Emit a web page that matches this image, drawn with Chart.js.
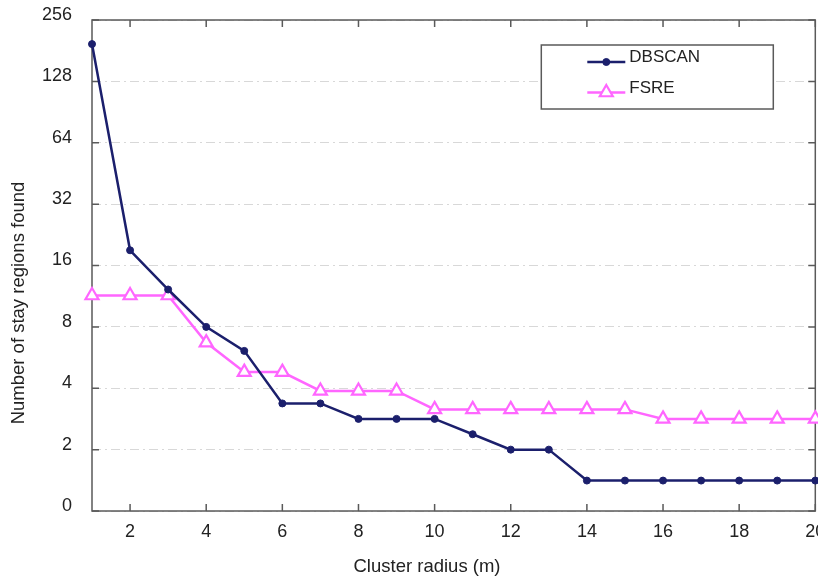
<!DOCTYPE html>
<html>
<head>
<meta charset="utf-8">
<title>Stay regions vs cluster radius</title>
<script src="https://cdn.jsdelivr.net/npm/chart.js@4.4.1/dist/chart.umd.min.js"></script>
<style>
  html, body { margin: 0; padding: 0; background: #fff; overflow: hidden; }
  canvas { display: block; }
</style>
</head>
<body>
<!-- canvas runs a little past the window so the last x label gets cut at the edge -->
<canvas id="radiusChart" width="825" height="580"></canvas>
<script>
// cluster radius (m) on the x axis
const radius = [1, 2, 3, 4, 5, 6, 7, 8, 9, 10, 11, 12, 13, 14, 15, 16, 17, 18, 19, 20];
// number of stay regions found by each method
const dbscanRegions = [195, 19, 12.2, 8, 6.1, 3.37, 3.37, 2.83, 2.83, 2.83, 2.38, 2, 2, 1.41, 1.41, 1.41, 1.41, 1.41, 1.41, 1.41];
const fsreRegions = [11.4, 11.4, 11.4, 6.7, 4.8, 4.8, 3.88, 3.88, 3.88, 3.15, 3.15, 3.15, 3.15, 3.15, 3.15, 2.83, 2.83, 2.83, 2.83, 2.83];

// tick values + labels
const radiusTicks = [2, 4, 6, 8, 10, 12, 14, 16, 18, 20];
const regionTicks = [1, 2, 4, 8, 16, 32, 64, 128, 256];
const regionTickLabels = ['0', '2', '4', '8', '16', '32', '64', '128', '256'];

const navy = '#1b1f6c';
const pink = '#ff66ff';
const frameColor = '#5a5a5a';
const textColor = '#222';
const fontFamily = '"Liberation Sans", Arial, Helvetica, sans-serif';

function toPoints(values) {
  return radius.map(function (r, i) { return { x: r, y: values[i] }; });
}

// box frame with inward tick marks like the old plotting tools
const frameTicks = {
  id: 'frameTicks',
  beforeDatasetsDraw(chart) {
    const ctx = chart.ctx;
    const a = chart.chartArea;
    const xs = chart.scales.x, ys = chart.scales.y;
    const len = 7;
    ctx.save();
    ctx.strokeStyle = frameColor;
    ctx.lineWidth = 1.5;
    ctx.beginPath();
    radiusTicks.forEach(function (v) {
      const px = xs.getPixelForValue(v);
      ctx.moveTo(px, a.bottom); ctx.lineTo(px, a.bottom - len);
      ctx.moveTo(px, a.top); ctx.lineTo(px, a.top + len);
    });
    regionTicks.forEach(function (v) {
      const py = ys.getPixelForValue(v);
      ctx.moveTo(a.left, py); ctx.lineTo(a.left + len, py);
      ctx.moveTo(a.right, py); ctx.lineTo(a.right - len, py);
    });
    ctx.stroke();
    ctx.strokeRect(a.left, a.top, a.right - a.left, a.bottom - a.top);
    ctx.restore();
  }
};

// axis titles (sit a bit off-centre of the plot box)
const axisTitles = {
  id: 'axisTitles',
  afterDraw(chart) {
    const ctx = chart.ctx;
    const a = chart.chartArea;
    ctx.save();
    ctx.fillStyle = textColor;
    ctx.font = '18.5px ' + fontFamily;
    ctx.textAlign = 'center';
    ctx.textBaseline = 'middle';
    ctx.fillText('Cluster radius (m)', a.left + 335, a.bottom + 56);
    ctx.translate(19, a.top + 283);
    ctx.rotate(-Math.PI / 2);
    ctx.fillText('Number of stay regions found', 0, 0);
    ctx.restore();
  }
};

// legend in a white box with line + marker samples
const boxLegend = {
  id: 'boxLegend',
  afterDraw(chart) {
    const ctx = chart.ctx;
    const a = chart.chartArea;
    const bx = a.right - 274, by = a.top + 25, bw = 232, bh = 64;
    ctx.save();
    ctx.fillStyle = '#fff';
    ctx.fillRect(bx, by, bw, bh);
    ctx.strokeStyle = frameColor;
    ctx.lineWidth = 1.5;
    ctx.strokeRect(bx, by, bw, bh);

    const rows = [17, 47.5];
    chart.data.datasets.forEach(function (ds, i) {
      const ly = by + rows[i];
      ctx.strokeStyle = ds.borderColor;
      ctx.lineWidth = ds.borderWidth;
      ctx.beginPath();
      ctx.moveTo(bx + 46, ly);
      ctx.lineTo(bx + 84, ly);
      ctx.stroke();
      ctx.fillStyle = ds.pointBackgroundColor;
      ctx.strokeStyle = ds.borderColor;
      ctx.lineWidth = ds.pointBorderWidth;
      Chart.helpers.drawPoint(ctx, {
        pointStyle: ds.pointStyle,
        radius: ds.pointRadius,
        rotation: 0,
        borderWidth: ds.pointBorderWidth
      }, bx + 65, ly);
      ctx.fillStyle = textColor;
      ctx.font = '17px ' + fontFamily;
      ctx.textAlign = 'left';
      ctx.textBaseline = 'middle';
      ctx.fillText(ds.label, bx + 88, ly - 4.5);
    });
    ctx.restore();
  }
};

new Chart(document.getElementById('radiusChart'), {
  type: 'line',
  data: {
    datasets: [
      {
        label: 'DBSCAN',
        data: toPoints(dbscanRegions),
        borderColor: navy,
        borderWidth: 2.5,
        pointStyle: 'circle',
        pointRadius: 3.5,
        pointBackgroundColor: navy,
        pointBorderWidth: 1,
        pointBorderColor: navy,
        tension: 0,
        clip: false,
        order: 1
      },
      {
        label: 'FSRE',
        data: toPoints(fsreRegions),
        borderColor: pink,
        borderWidth: 2.5,
        pointStyle: 'triangle',
        pointRadius: 7.5,
        pointBackgroundColor: '#fff',
        pointBorderWidth: 2.2,
        pointBorderColor: pink,
        tension: 0,
        clip: false,
        order: 2
      }
    ]
  },
  options: {
    responsive: false,
    animation: false,
    devicePixelRatio: 1,
    layout: { padding: { top: 20, right: 0, bottom: 0, left: 0 } },
    plugins: {
      legend: { display: false },
      tooltip: { enabled: false }
    },
    scales: {
      x: {
        type: 'linear',
        min: 1,
        max: 20,
        grid: { display: false, drawTicks: false },
        border: { display: false },
        ticks: {
          padding: 10,
          color: textColor,
          font: { size: 18, family: fontFamily },
          maxRotation: 0,
          autoSkip: false
        },
        afterBuildTicks: function (scale) {
          scale.ticks = radiusTicks.map(function (v) { return { value: v }; });
        },
        afterFit: function (scale) {
          scale.height = 69;
          scale.paddingLeft = 0;
          scale.paddingRight = 0;
        }
      },
      y: {
        type: 'logarithmic',
        min: 1,
        max: 256,
        grid: { color: '#d8d8d8', lineWidth: 1, drawTicks: false },
        border: { display: false, dash: [9, 4, 2, 4] },
        ticks: {
          padding: 20,
          labelOffset: -5,
          color: textColor,
          font: { size: 18, family: fontFamily },
          autoSkip: false,
          callback: function (value) {
            const i = regionTicks.indexOf(value);
            return i >= 0 ? regionTickLabels[i] : '';
          }
        },
        afterBuildTicks: function (scale) {
          scale.ticks = regionTicks.map(function (v) { return { value: v }; });
        },
        afterFit: function (scale) {
          scale.width = 92;
          scale.paddingTop = 0;
          scale.paddingBottom = 0;
        }
      }
    }
  },
  plugins: [frameTicks, axisTitles, boxLegend]
});
</script>
</body>
</html>
